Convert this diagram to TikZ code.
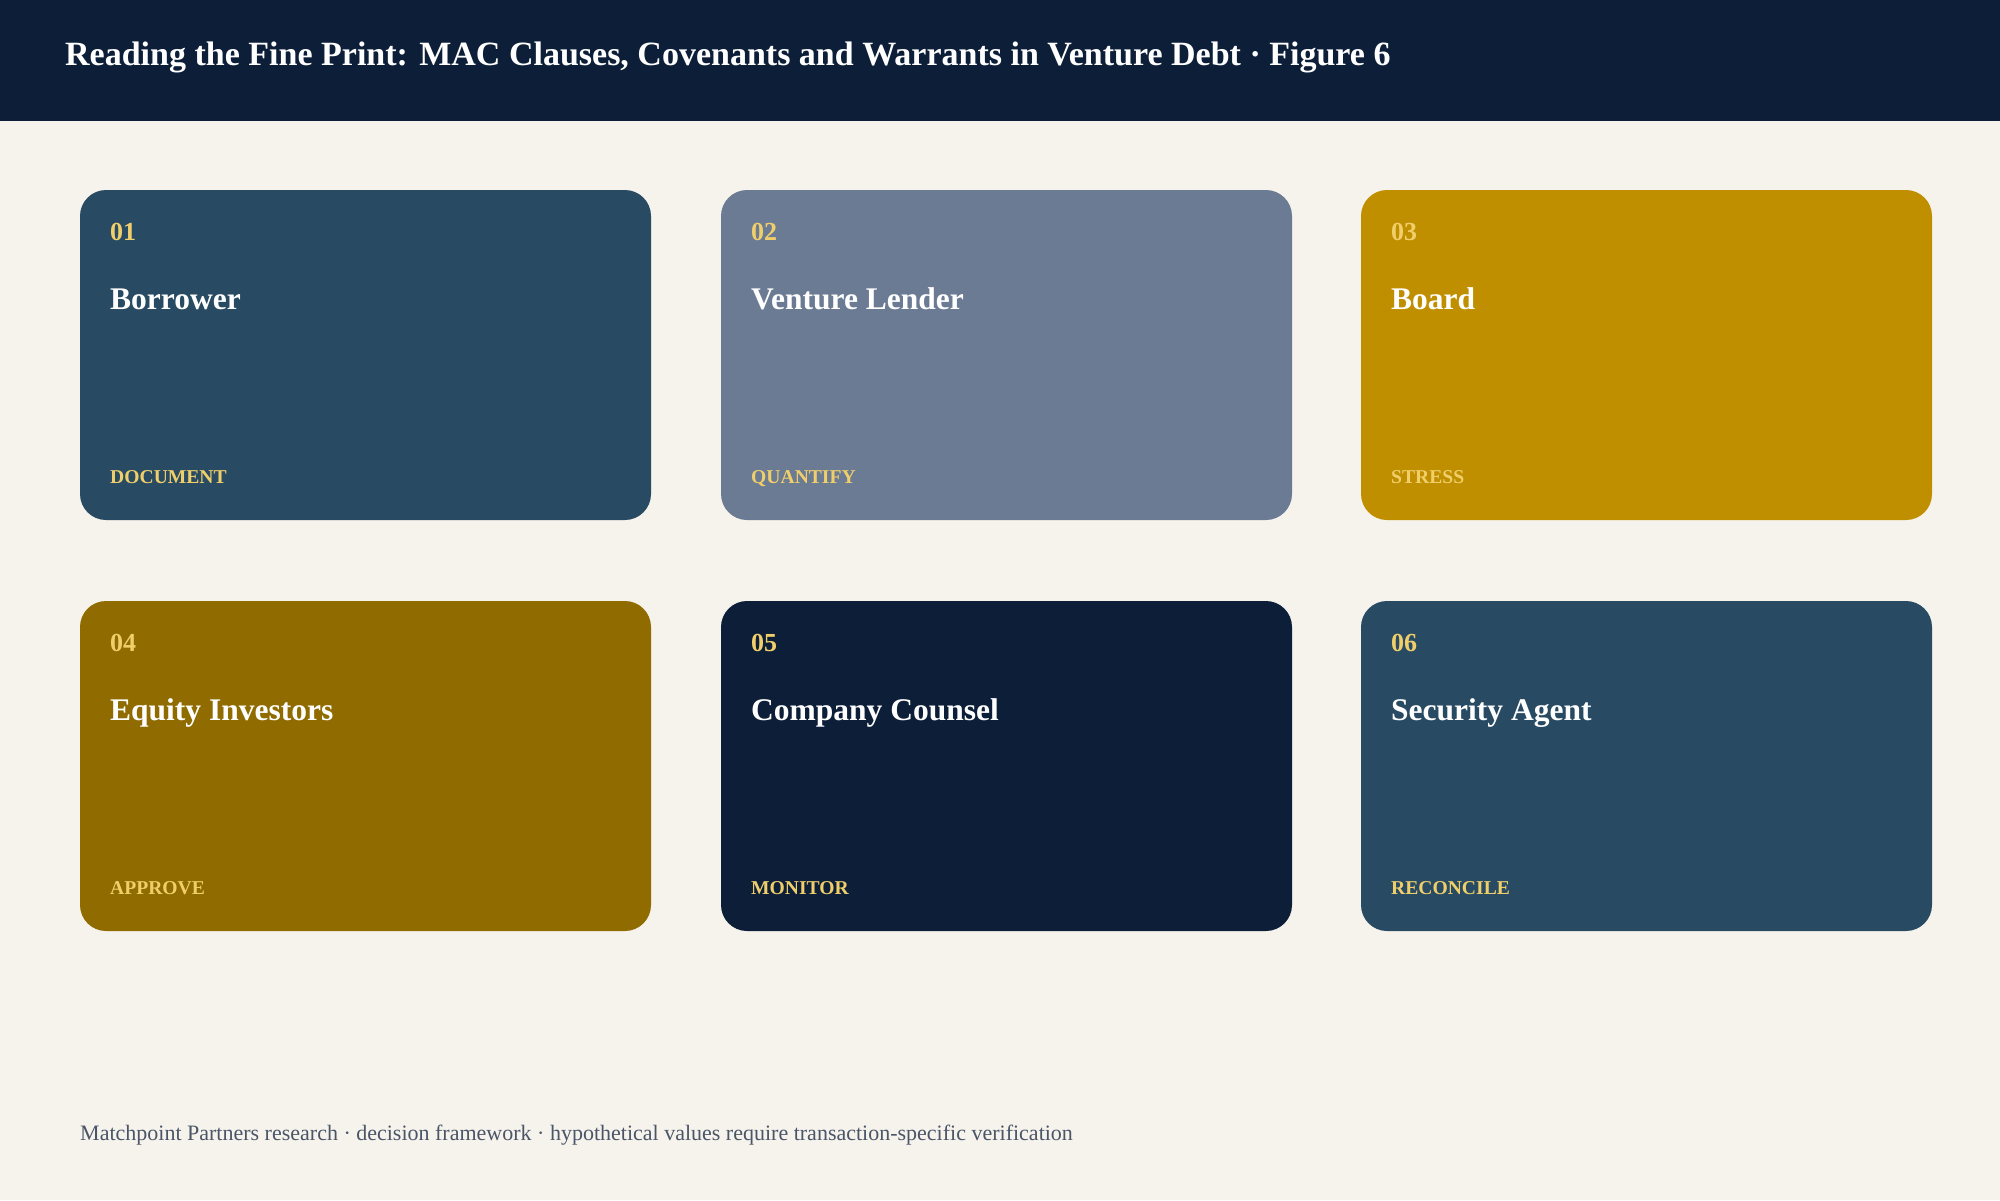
\documentclass[tikz,border=0pt]{standalone}
\usepackage{fontspec}
\setmainfont{Liberation Serif}
\definecolor{paper}{HTML}{F6F3EC}
\definecolor{navy}{HTML}{0D1F38}
\definecolor{steel}{HTML}{284B63}
\definecolor{slate}{HTML}{6B7B93}
\definecolor{ochre}{HTML}{C08F00}
\definecolor{bronze}{HTML}{8F6B00}
\definecolor{goldtext}{HTML}{F0CF6B}
\definecolor{footgray}{HTML}{4A5568}
\tikzset{
  card/.style={rounded corners=26pt},
  card-text/.style={anchor=base west, inner sep=0pt},
  card-num/.style={card-text, text=goldtext, font=\bfseries\fontsize{26}{30}\selectfont},
  card-name/.style={card-text, text=white, font=\bfseries\fontsize{31.5}{36}\selectfont},
  card-tag/.style={card-text, text=goldtext, font=\bfseries\fontsize{19.6}{22}\selectfont},
  title-text/.style={anchor=base west, inner sep=0pt, text=white, font=\bfseries\fontsize{34}{40}\selectfont},
  foot-text/.style={anchor=base west, inner sep=0pt, text=footgray, font=\fontsize{22}{26}\selectfont}
}

\begin{document}
\begin{tikzpicture}[x=1pt,y=-1pt]
  \useasboundingbox (0,0) rectangle (2000,1200);
  \fill[paper] (0,0) rectangle (2000,1200);
  % header band
  \fill[navy] (0,0) rectangle (2000,121);
  \node[title-text] (title) at (65,65)
    {Reading the Fine Print: MAC Clauses, Covenants and Warrants in Venture Debt · Figure 6};
  % six party cards
  \foreach \n/\cx/\cy/\col/\who/\act in {
      01/80/190/steel/Borrower/DOCUMENT,
      02/721/190/slate/Venture Lender/QUANTIFY,
      03/1361/190/ochre/Board/STRESS,
      04/80/601/bronze/Equity Investors/APPROVE,
      05/721/601/navy/Company Counsel/MONITOR,
      06/1361/601/steel/Security Agent/RECONCILE}{
    \fill[card,\col] (\cx,\cy) rectangle ++(571,330);
    \node[card-num] (num\n) at (\cx+30,\cy+50) {\n};
    \node[card-name] (name\n) at (\cx+30,\cy+119) {\who};
    \node[card-tag] (tag\n) at (\cx+30,\cy+293) {\act};
  }
  % footer note
  \node[foot-text] (foot) at (80,1140)
    {Matchpoint Partners research · decision framework · hypothetical values require transaction-specific verification};
\end{tikzpicture}
\end{document}
